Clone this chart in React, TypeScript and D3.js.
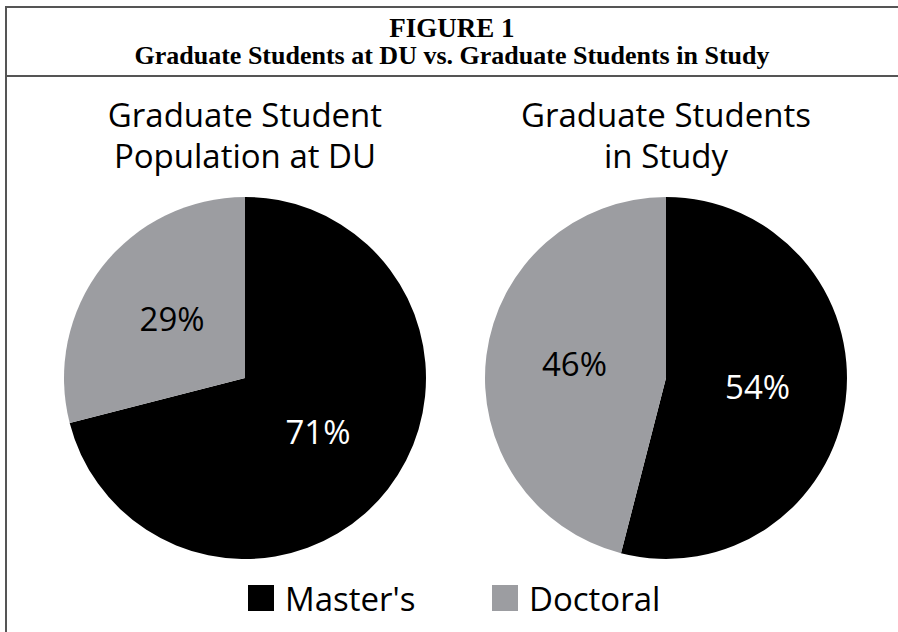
import * as d3 from "d3";

const categories = ["Master's", "Doctoral"];
const duValues = [71, 29];
const studyValues = [54, 46];
const pieTitles = [
  ["Graduate Student", "Population at DU"],
  ["Graduate Students", "in Study"],
];
const colors = ["#000000", "#9c9da1"];
const labelColors = ["#ffffff", "#000000"];

const W = 898;
const H = 632;
const R = 181;
const SANS = "'Open Sans', sans-serif";
const SERIF = "'Liberation Serif', 'Times New Roman', serif";

interface PieProps {
  values: number[];
  cx: number;
  cy: number;
  title: string[];
}

function Pie({ values, cx, cy, title }: PieProps) {
  const data = values.map((v, i) => ({ name: categories[i], value: v, i }));
  const pie = d3
    .pie<{ name: string; value: number; i: number }>()
    .value((d) => d.value)
    .sort(null);
  const arc = d3
    .arc<d3.PieArcDatum<{ name: string; value: number; i: number }>>()
    .innerRadius(0)
    .outerRadius(R);
  // labels sit roughly half way out
  const labelArc = d3
    .arc<d3.PieArcDatum<{ name: string; value: number; i: number }>>()
    .innerRadius(R * 0.51)
    .outerRadius(R * 0.51);

  return (
    <g>
      {title.map((t, i) => (
        <text
          key={t}
          x={cx}
          y={127 + i * 41}
          textAnchor="middle"
          fontFamily={SANS}
          fontSize={33}
          fill="#000"
        >
          {t}
        </text>
      ))}
      <g transform={`translate(${cx},${cy})`}>
        {pie(data).map((d) => (
          <path key={d.data.name} d={arc(d) ?? ""} fill={colors[d.data.i]} />
        ))}
        {pie(data).map((d) => {
          const [x, y] = labelArc.centroid(d);
          return (
            <text
              key={"l" + d.data.name}
              x={x}
              y={y}
              dy="0.3em"
              textAnchor="middle"
              fontFamily={SANS}
              fontSize={33}
              fill={labelColors[d.data.i]}
            >
              {d.data.value}%
            </text>
          );
        })}
      </g>
    </g>
  );
}

export default function App() {
  const legendX = [248, 492];
  return (
    <svg
      width={W}
      height={H}
      style={{ position: "absolute", left: 0, top: 0, background: "#fff" }}
    >
      <rect x={0} y={0} width={W} height={H} fill="#fff" />
      {/* frame */}
      <line x1={5} x2={W} y1={7} y2={7} stroke="#555" strokeWidth={2} />
      <line x1={6} x2={6} y1={6} y2={H} stroke="#555" strokeWidth={2} />
      <line x1={5} x2={W} y1={76} y2={76} stroke="#555" strokeWidth={2} />

      <text
        x={452}
        y={37}
        textAnchor="middle"
        fontFamily={SERIF}
        fontWeight="bold"
        fontSize={27}
      >
        FIGURE 1
      </text>
      <text
        x={452}
        y={64}
        textAnchor="middle"
        fontFamily={SERIF}
        fontWeight="bold"
        fontSize={26}
      >
        Graduate Students at DU vs. Graduate Students in Study
      </text>

      <Pie values={duValues} cx={245} cy={378} title={pieTitles[0]} />
      <Pie values={studyValues} cx={666} cy={378} title={pieTitles[1]} />

      {categories.map((c, i) => (
        <g key={c}>
          <rect x={legendX[i]} y={585} width={26} height={26} fill={colors[i]} />
          <text
            x={legendX[i] + 37}
            y={611}
            fontFamily={SANS}
            fontSize={33}
            fill="#000"
          >
            {c}
          </text>
        </g>
      ))}
    </svg>
  );
}
